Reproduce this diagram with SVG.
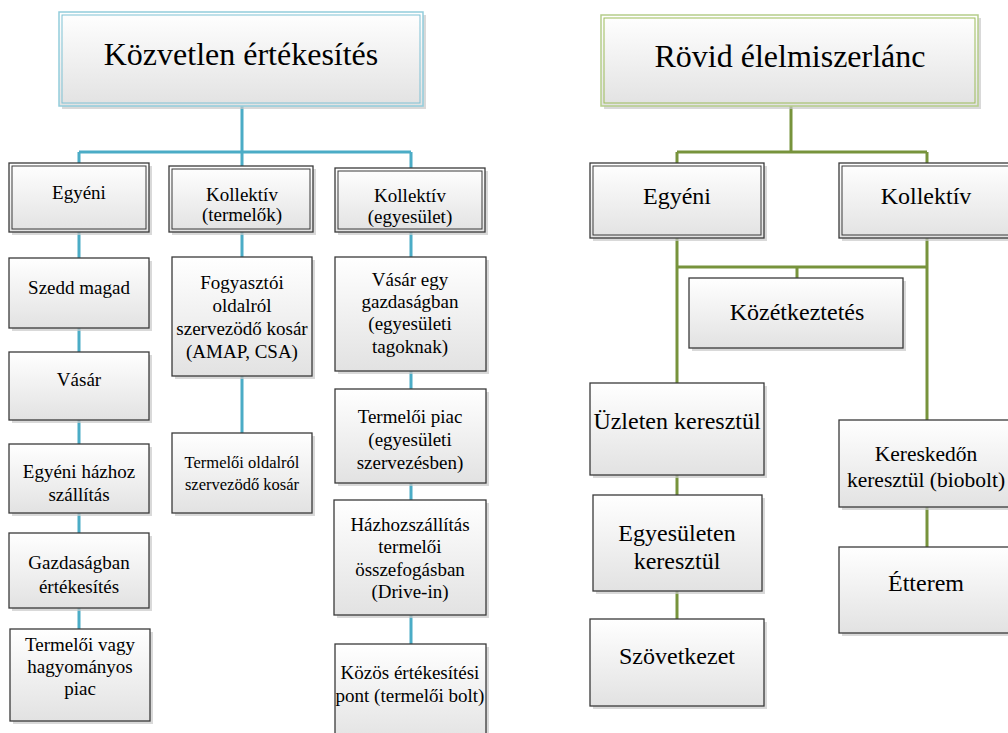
<svg xmlns="http://www.w3.org/2000/svg" width="1008" height="733" viewBox="0 0 1008 733">
  <defs>
    <linearGradient id="boxFill" x1="0" y1="0" x2="0" y2="1">
      <stop offset="0" stop-color="#ffffff"/>
      <stop offset="1" stop-color="#e2e2e2"/>
    </linearGradient>
  </defs>
  <rect width="1008" height="733" fill="#ffffff"/>

  <!-- connectors -->
  <g id="connectors" fill="none" stroke-width="3">
    <!-- left tree -->
    <path stroke="#4bacc6" d="M242,106 V152 M79,152 H411 M79,152 V163 M242,152 V166 M411,152 V168 M79,232 V629 M242,232 V433 M411,232 V644"/>
    <!-- right tree -->
    <path stroke="#77933c" d="M791,106 V152 M677,152 H927 M677,152 V163 M927,152 V163 M677,238 V619 M927,238 V547 M677,267 H927 M797,267 V278"/>
  </g>

  <!-- titles -->
  <g id="title-left">
    <rect fill="#c9c9c9" opacity="0.7" x="62" y="15" width="364" height="94"/>
    <rect fill="url(#boxFill)" stroke="#92cddc" stroke-width="1.5" x="59" y="12" width="364" height="94"/>
    <rect fill="none" stroke="#7fc1d4" x="62" y="15" width="358" height="88"/>
    <text font-family="Liberation Serif" font-size="32" text-anchor="middle" x="241" y="65">Közvetlen értékesítés</text>
  </g>
  <g id="title-right">
    <rect fill="#c9c9c9" opacity="0.7" x="604" y="18" width="377" height="91"/>
    <rect fill="url(#boxFill)" stroke="#b5cd8a" stroke-width="1.5" x="601" y="15" width="377" height="91"/>
    <rect fill="none" stroke="#9bbb59" x="604" y="18" width="371" height="85"/>
    <text font-family="Liberation Serif" font-size="32" text-anchor="middle" x="790" y="67">Rövid élelmiszerlánc</text>
  </g>

  <!-- left tree nodes: shadow, box, optional inner frame, label -->
  <g id="l-egyeni">
    <rect fill="#c9c9c9" opacity="0.7" x="12" y="166" width="140" height="69"/>
    <rect fill="url(#boxFill)" stroke="#3a3a3a" stroke-width="1.3" x="9" y="163" width="140" height="69"/>
    <rect fill="none" stroke="#3a3a3a" x="12" y="166" width="134" height="63"/>
    <text font-family="Liberation Serif" font-size="19" text-anchor="middle" x="79" y="199">Egyéni</text>
  </g>
  <g id="l-szedd">
    <rect fill="#c9c9c9" opacity="0.7" x="12" y="261" width="140" height="70"/>
    <rect fill="url(#boxFill)" stroke="#3a3a3a" stroke-width="1.3" x="9" y="258" width="140" height="70"/>
    <text font-family="Liberation Serif" font-size="19" text-anchor="middle" x="79" y="294">Szedd magad</text>
  </g>
  <g id="l-vasar">
    <rect fill="#c9c9c9" opacity="0.7" x="12" y="355" width="140" height="68"/>
    <rect fill="url(#boxFill)" stroke="#3a3a3a" stroke-width="1.3" x="9" y="352" width="140" height="68"/>
    <text font-family="Liberation Serif" font-size="19" text-anchor="middle" x="79" y="386">Vásár</text>
  </g>
  <g id="l-hazhoz">
    <rect fill="#c9c9c9" opacity="0.7" x="12" y="447" width="140" height="69"/>
    <rect fill="url(#boxFill)" stroke="#3a3a3a" stroke-width="1.3" x="9" y="444" width="140" height="69"/>
    <text font-family="Liberation Serif" font-size="19" text-anchor="middle" x="79" y="478">Egyéni házhoz</text>
    <text font-family="Liberation Serif" font-size="19" text-anchor="middle" x="79" y="501">szállítás</text>
  </g>
  <g id="l-gazdasag">
    <rect fill="#c9c9c9" opacity="0.7" x="12" y="536" width="140" height="75"/>
    <rect fill="url(#boxFill)" stroke="#3a3a3a" stroke-width="1.3" x="9" y="533" width="140" height="75"/>
    <text font-family="Liberation Serif" font-size="19" text-anchor="middle" x="79" y="569">Gazdaságban</text>
    <text font-family="Liberation Serif" font-size="19" text-anchor="middle" x="79" y="593">értékesítés</text>
  </g>
  <g id="l-piac">
    <rect fill="#c9c9c9" opacity="0.7" x="13" y="632" width="140" height="92"/>
    <rect fill="url(#boxFill)" stroke="#3a3a3a" stroke-width="1.3" x="10" y="629" width="140" height="92"/>
    <text font-family="Liberation Serif" font-size="19" text-anchor="middle" x="80" y="651">Termelői vagy</text>
    <text font-family="Liberation Serif" font-size="19" text-anchor="middle" x="80" y="673">hagyományos</text>
    <text font-family="Liberation Serif" font-size="19" text-anchor="middle" x="80" y="695">piac</text>
  </g>

  <g id="l-koll-termelok">
    <rect fill="#c9c9c9" opacity="0.7" x="172" y="169" width="144" height="66"/>
    <rect fill="url(#boxFill)" stroke="#3a3a3a" stroke-width="1.3" x="169" y="166" width="144" height="66"/>
    <rect fill="none" stroke="#3a3a3a" x="172" y="169" width="138" height="60"/>
    <text font-family="Liberation Serif" font-size="19" text-anchor="middle" x="242" y="201">Kollektív</text>
    <text font-family="Liberation Serif" font-size="19" text-anchor="middle" x="242" y="221">(termelők)</text>
  </g>
  <g id="l-fogyasztoi">
    <rect fill="#c9c9c9" opacity="0.7" x="175" y="260" width="140" height="119"/>
    <rect fill="url(#boxFill)" stroke="#3a3a3a" stroke-width="1.3" x="172" y="257" width="140" height="119"/>
    <text font-family="Liberation Serif" font-size="19" text-anchor="middle" x="242" y="289">Fogyasztói</text>
    <text font-family="Liberation Serif" font-size="19" text-anchor="middle" x="242" y="312">oldalról</text>
    <text font-family="Liberation Serif" font-size="19" text-anchor="middle" x="242" y="335">szervezödő kosár</text>
    <text font-family="Liberation Serif" font-size="19" text-anchor="middle" x="242" y="358">(AMAP, CSA)</text>
  </g>
  <g id="l-termeloi-kosar">
    <rect fill="#c9c9c9" opacity="0.7" x="175" y="436" width="140" height="80"/>
    <rect fill="url(#boxFill)" stroke="#3a3a3a" stroke-width="1.3" x="172" y="433" width="140" height="80"/>
    <text font-family="Liberation Serif" font-size="16.5" text-anchor="middle" x="242" y="468">Termelői oldalról</text>
    <text font-family="Liberation Serif" font-size="16.5" text-anchor="middle" x="242" y="490">szervezödő kosár</text>
  </g>

  <g id="l-koll-egyesulet">
    <rect fill="#c9c9c9" opacity="0.7" x="338" y="171" width="150" height="64"/>
    <rect fill="url(#boxFill)" stroke="#3a3a3a" stroke-width="1.3" x="335" y="168" width="150" height="64"/>
    <rect fill="none" stroke="#3a3a3a" x="338" y="171" width="144" height="58"/>
    <text font-family="Liberation Serif" font-size="19" text-anchor="middle" x="410" y="202">Kollektív</text>
    <text font-family="Liberation Serif" font-size="19" text-anchor="middle" x="410" y="223">(egyesület)</text>
  </g>
  <g id="l-vasar-egy">
    <rect fill="#c9c9c9" opacity="0.7" x="338" y="260" width="151" height="114"/>
    <rect fill="url(#boxFill)" stroke="#3a3a3a" stroke-width="1.3" x="335" y="257" width="151" height="114"/>
    <text font-family="Liberation Serif" font-size="19" text-anchor="middle" x="410" y="286">Vásár egy</text>
    <text font-family="Liberation Serif" font-size="19" text-anchor="middle" x="410" y="308">gazdaságban</text>
    <text font-family="Liberation Serif" font-size="19" text-anchor="middle" x="410" y="330">(egyesületi</text>
    <text font-family="Liberation Serif" font-size="19" text-anchor="middle" x="410" y="353">tagoknak)</text>
  </g>
  <g id="l-termeloi-piac">
    <rect fill="#c9c9c9" opacity="0.7" x="338" y="392" width="151" height="94"/>
    <rect fill="url(#boxFill)" stroke="#3a3a3a" stroke-width="1.3" x="335" y="389" width="151" height="94"/>
    <text font-family="Liberation Serif" font-size="19" text-anchor="middle" x="410" y="423">Termelői piac</text>
    <text font-family="Liberation Serif" font-size="19" text-anchor="middle" x="410" y="446">(egyesületi</text>
    <text font-family="Liberation Serif" font-size="19" text-anchor="middle" x="410" y="469">szervezésben)</text>
  </g>
  <g id="l-hazhozszallitas">
    <rect fill="#c9c9c9" opacity="0.7" x="337" y="503" width="152" height="115"/>
    <rect fill="url(#boxFill)" stroke="#3a3a3a" stroke-width="1.3" x="334" y="500" width="152" height="115"/>
    <text font-family="Liberation Serif" font-size="19" text-anchor="middle" x="410" y="531">Házhozszállítás</text>
    <text font-family="Liberation Serif" font-size="19" text-anchor="middle" x="410" y="553">termelői</text>
    <text font-family="Liberation Serif" font-size="19" text-anchor="middle" x="410" y="576">összefogásban</text>
    <text font-family="Liberation Serif" font-size="19" text-anchor="middle" x="410" y="598">(Drive-in)</text>
  </g>
  <g id="l-kozos">
    <rect fill="#c9c9c9" opacity="0.7" x="338" y="647" width="151" height="100"/>
    <rect fill="url(#boxFill)" stroke="#3a3a3a" stroke-width="1.3" x="335" y="644" width="151" height="100"/>
    <text font-family="Liberation Serif" font-size="19" text-anchor="middle" x="410" y="679">Közös értékesítési</text>
    <text font-family="Liberation Serif" font-size="19" text-anchor="middle" x="410" y="702">pont (termelői bolt)</text>
  </g>

  <!-- right tree nodes -->
  <g id="r-egyeni">
    <rect fill="#c9c9c9" opacity="0.7" x="593" y="166" width="174" height="75"/>
    <rect fill="url(#boxFill)" stroke="#3a3a3a" stroke-width="1.3" x="590" y="163" width="174" height="75"/>
    <rect fill="none" stroke="#3a3a3a" x="593" y="166" width="168" height="69"/>
    <text font-family="Liberation Serif" font-size="24" text-anchor="middle" x="677" y="204">Egyéni</text>
  </g>
  <g id="r-kollektiv">
    <rect fill="#c9c9c9" opacity="0.7" x="842" y="166" width="174" height="75"/>
    <rect fill="url(#boxFill)" stroke="#3a3a3a" stroke-width="1.3" x="839" y="163" width="174" height="75"/>
    <rect fill="none" stroke="#3a3a3a" x="842" y="166" width="168" height="69"/>
    <text font-family="Liberation Serif" font-size="24" text-anchor="middle" x="926" y="204">Kollektív</text>
  </g>
  <g id="r-kozetkeztetes">
    <rect fill="#c9c9c9" opacity="0.7" x="692" y="281" width="214" height="70"/>
    <rect fill="url(#boxFill)" stroke="#3a3a3a" stroke-width="1.3" x="689" y="278" width="214" height="70"/>
    <text font-family="Liberation Serif" font-size="24" text-anchor="middle" x="797" y="320">Közétkeztetés</text>
  </g>
  <g id="r-uzleten">
    <rect fill="#c9c9c9" opacity="0.7" x="593" y="386" width="174" height="92"/>
    <rect fill="url(#boxFill)" stroke="#3a3a3a" stroke-width="1.3" x="590" y="383" width="174" height="92"/>
    <text font-family="Liberation Serif" font-size="24" text-anchor="middle" x="677" y="429">Üzleten keresztül</text>
  </g>
  <g id="r-egyesuleten">
    <rect fill="#c9c9c9" opacity="0.7" x="596" y="498" width="169" height="96"/>
    <rect fill="url(#boxFill)" stroke="#3a3a3a" stroke-width="1.3" x="593" y="495" width="169" height="96"/>
    <text font-family="Liberation Serif" font-size="24" text-anchor="middle" x="677" y="541">Egyesületen</text>
    <text font-family="Liberation Serif" font-size="24" text-anchor="middle" x="677" y="569">keresztül</text>
  </g>
  <g id="r-szovetkezet">
    <rect fill="#c9c9c9" opacity="0.7" x="593" y="622" width="174" height="87"/>
    <rect fill="url(#boxFill)" stroke="#3a3a3a" stroke-width="1.3" x="590" y="619" width="174" height="87"/>
    <text font-family="Liberation Serif" font-size="24" text-anchor="middle" x="677" y="664">Szövetkezet</text>
  </g>
  <g id="r-kereskedon">
    <rect fill="#c9c9c9" opacity="0.7" x="842" y="423" width="174" height="87"/>
    <rect fill="url(#boxFill)" stroke="#3a3a3a" stroke-width="1.3" x="839" y="420" width="174" height="87"/>
    <text font-family="Liberation Serif" font-size="21.5" text-anchor="middle" x="926" y="461">Kereskedőn</text>
    <text font-family="Liberation Serif" font-size="21.5" text-anchor="middle" x="926" y="487">keresztül (biobolt)</text>
  </g>
  <g id="r-etterem">
    <rect fill="#c9c9c9" opacity="0.7" x="842" y="550" width="174" height="86"/>
    <rect fill="url(#boxFill)" stroke="#3a3a3a" stroke-width="1.3" x="839" y="547" width="174" height="86"/>
    <text font-family="Liberation Serif" font-size="24" text-anchor="middle" x="926" y="591">Étterem</text>
  </g>
</svg>
